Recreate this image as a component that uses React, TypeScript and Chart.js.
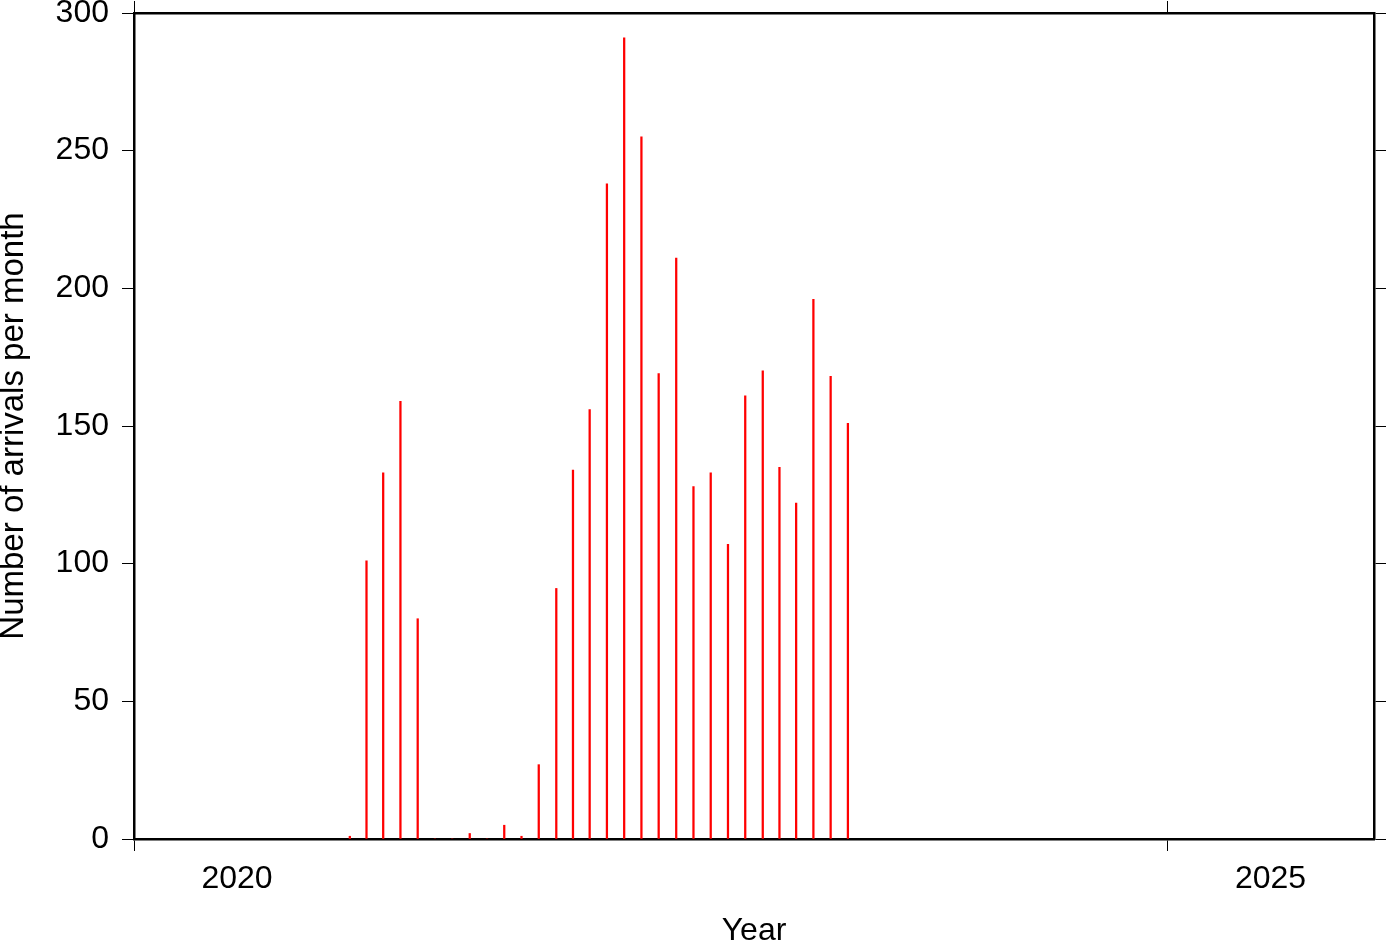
import React, { useEffect, useRef } from "react";
import { Chart, registerables } from "chart.js";

Chart.register(...registerables);

// Monthly arrivals (month as YYYY-MM)
const months: string[] = [
  "2021-01", "2021-02", "2021-03", "2021-04", "2021-05", "2021-06",
  "2021-07", "2021-08", "2021-09", "2021-10", "2021-11", "2021-12",
  "2022-01", "2022-02", "2022-03", "2022-04", "2022-05", "2022-06",
  "2022-07", "2022-08", "2022-09", "2022-10", "2022-11", "2022-12",
  "2023-01", "2023-02", "2023-03", "2023-04", "2023-05", "2023-06",
];
const arrivals: number[] = [
  1, 101, 133, 159, 80, 0,
  0, 2, 0, 5, 1, 27,
  91, 134, 156, 238, 291, 255,
  169, 211, 128, 133, 107, 161,
  170, 135, 122, 196, 168, 151,
];

const xRangeYears: number[] = [2020, 2026];
const xTickYears: number[] = [2020, 2025];
const yMin = 0;
const yMax = 300;
const yStep = 50;

const FONT = "'Liberation Sans', Arial, Helvetica, sans-serif";

function midMonth(s: string): number {
  const [y, m] = s.split("-").map(Number);
  const a = Date.UTC(y, m - 1, 1);
  const b = Date.UTC(y, m, 1);
  return (a + b) / 2;
}

const yearMs = (y: number) => Date.UTC(y, 0, 1);

export default function App() {
  const ref = useRef<HTMLCanvasElement | null>(null);

  useEffect(() => {
    if (!ref.current) return;
    const data = months.map((m, i) => ({ x: midMonth(m), y: arrivals[i] }));
    const setXTicks = (scale: any) => {
      scale.ticks = xTickYears.map((y) => ({ value: yearMs(y) }));
    };
    const zeroPad = (scale: any) => {
      scale.paddingTop = 0;
      scale.paddingBottom = 0;
      scale.paddingLeft = 0;
      scale.paddingRight = 0;
    };
    const chart = new Chart(ref.current, {
      type: "bar",
      data: {
        datasets: [
          {
            data,
            backgroundColor: "#ff0000",
            borderWidth: 0,
            barThickness: 1.6,
            grouped: false,
            xAxisID: "x",
            yAxisID: "y",
          },
        ],
      },
      options: {
        responsive: false,
        animation: false,
        events: [],
        layout: { padding: 0 },
        plugins: {
          legend: { display: false },
          tooltip: { enabled: false },
        },
        scales: {
          x: {
            type: "linear",
            position: "bottom",
            min: yearMs(xRangeYears[0]),
            max: yearMs(xRangeYears[1]),
            offset: false,
            afterBuildTicks: setXTicks,
            afterFit: (s: any) => {
              s.height = 103;
              zeroPad(s);
            },
            grid: {
              offset: false,
              drawOnChartArea: false,
              drawTicks: true,
              tickLength: 12,
              tickColor: "#000",
              tickWidth: 1,
            },
            border: { display: true, color: "#000", width: 2.5 },
            ticks: {
              autoSkip: false,
              maxRotation: 0,
              minRotation: 0,
              padding: 9,
              labelOffset: 103,
              color: "#000",
              font: { family: FONT, size: 32 },
              callback: (v: any) => String(new Date(Number(v)).getUTCFullYear()),
            },
            title: {
              display: true,
              text: "Year",
              color: "#000",
              font: { family: FONT, size: 32, lineHeight: 1 },
              padding: { top: 0, bottom: -5 },
            },
          },
          xTop: {
            type: "linear",
            position: "top",
            min: yearMs(xRangeYears[0]),
            max: yearMs(xRangeYears[1]),
            offset: false,
            afterBuildTicks: setXTicks,
            afterFit: (s: any) => {
              s.height = 13;
              zeroPad(s);
            },
            grid: {
              offset: false,
              drawOnChartArea: false,
              drawTicks: true,
              tickLength: 12,
              tickColor: "#000",
              tickWidth: 1,
            },
            border: { display: true, color: "#000", width: 2.5 },
            ticks: { display: false },
          },
          y: {
            type: "linear",
            position: "left",
            min: yMin,
            max: yMax,
            afterFit: (s: any) => {
              s.width = 134;
              zeroPad(s);
            },
            grid: {
              drawOnChartArea: false,
              drawTicks: true,
              tickLength: 12,
              tickColor: "#000",
              tickWidth: 1,
            },
            border: { display: true, color: "#000", width: 2.5 },
            ticks: {
              stepSize: yStep,
              padding: 13,
              color: "#000",
              font: { family: FONT, size: 32 },
            },
            title: {
              display: true,
              text: "Number of arrivals per month",
              color: "#000",
              font: { family: FONT, size: 33, lineHeight: 1 },
              padding: { top: -3, bottom: 0 },
            },
          },
          yRight: {
            type: "linear",
            position: "right",
            min: yMin,
            max: yMax,
            afterFit: (s: any) => {
              s.width = 13;
              zeroPad(s);
            },
            grid: {
              drawOnChartArea: false,
              drawTicks: true,
              tickLength: 12,
              tickColor: "#000",
              tickWidth: 1,
            },
            border: { display: true, color: "#000", width: 2.5 },
            ticks: { stepSize: yStep, display: false },
          },
        },
      } as any,
    });
    return () => chart.destroy();
  }, []);

  return (
    <div style={{ position: "absolute", left: 0, top: 0, width: 1387, height: 942 }}>
      <canvas ref={ref} width={1387} height={942} style={{ display: "block" }} />
    </div>
  );
}
